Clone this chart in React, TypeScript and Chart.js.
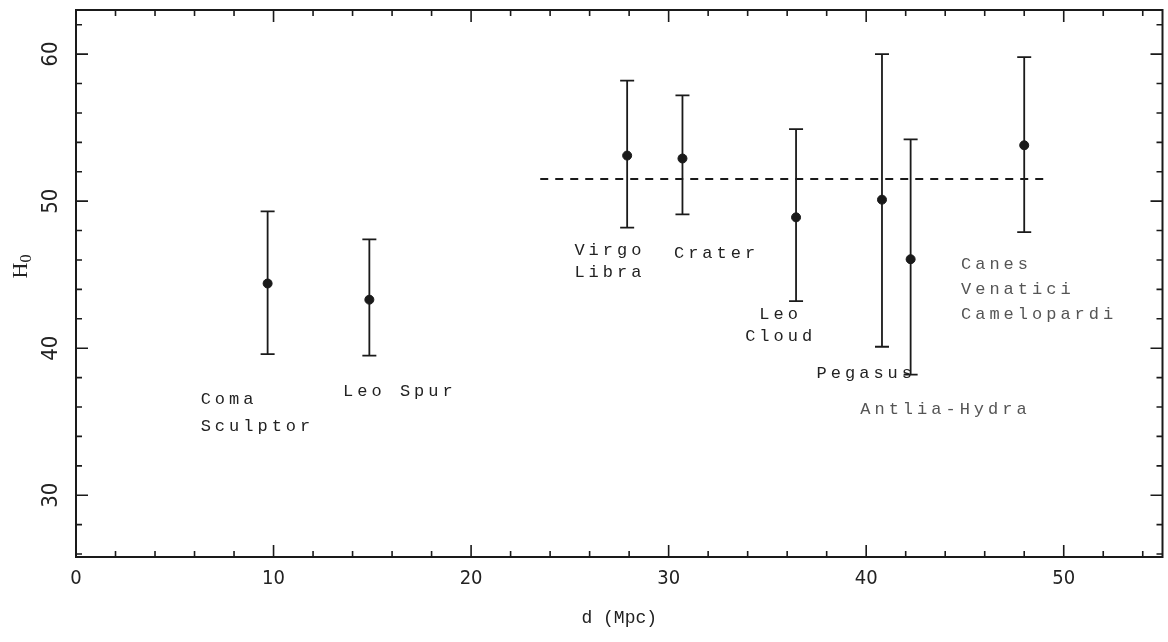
import React, { useEffect, useRef } from "react";
import { Chart, registerables } from "chart.js";
Chart.register(...registerables);

// ---- data ----
const distances = [9.7, 14.85, 27.9, 30.7, 36.45, 40.8, 42.25, 48.0];
const h0Values = [44.4, 43.3, 53.1, 52.9, 48.9, 50.1, 46.05, 53.8];
const h0Upper = [49.3, 47.4, 58.2, 57.2, 54.9, 60.0, 54.2, 59.8];
const h0Lower = [39.6, 39.5, 48.2, 49.1, 43.2, 40.1, 38.2, 47.9];
const meanLineX = [23.5, 49.0];
const meanLineY = [51.5, 51.5];
const xTickLabels = [0, 10, 20, 30, 40, 50];
const yTickLabels = [30, 40, 50, 60];
const xMinorTicks = [2, 4, 6, 8, 12, 14, 16, 18, 22, 24, 26, 28, 32, 34, 36, 38, 42, 44, 46, 48, 52, 54];
const yMinorTicks = [26, 28, 32, 34, 36, 38, 42, 44, 46, 48, 52, 54, 56, 58, 62];

// group annotations: text, anchor x, anchor y (data units), alignment
const annotationText = ["Coma", "Sculptor", "Leo Spur", "Virgo", "Libra", "Crater", "Leo", "Cloud", "Pegasus", "Antlia-Hydra", "Canes", "Venatici", "Camelopardi"];
const annotationX = [6.31, 6.31, 13.52, 25.23, 25.23, 30.27, 35.67, 35.67, 37.49, 39.7, 44.8, 44.8, 44.8];
const annotationY = [36.52, 34.67, 37.06, 46.62, 45.12, 46.41, 42.32, 40.82, 38.29, 35.83, 45.66, 43.96, 42.32];
const annotationAlign = ["left", "left", "left", "left", "left", "left", "center", "center", "left", "left", "left", "left", "left"];
const annotationFaint = [false, false, false, false, false, false, false, false, false, true, true, true, true];

const INK = "#1a1a1a";

const errorBarPlugin = {
  id: "errorBars",
  beforeDatasetsDraw(chart: any) {
    const ctx = chart.ctx;
    const xs = chart.scales.x;
    const ys = chart.scales.y;
    const meta = chart.getDatasetMeta(1);
    const data = chart.data.datasets[1].data as any[];
    ctx.save();
    ctx.strokeStyle = INK;
    ctx.lineWidth = 1.8;
    data.forEach((pt, i) => {
      if (!meta.data[i]) return;
      const px = xs.getPixelForValue(pt.x);
      const top = ys.getPixelForValue(pt.yMax);
      const bot = ys.getPixelForValue(pt.yMin);
      ctx.beginPath();
      ctx.moveTo(px, top);
      ctx.lineTo(px, bot);
      ctx.moveTo(px - 7, top);
      ctx.lineTo(px + 7, top);
      ctx.moveTo(px - 7, bot);
      ctx.lineTo(px + 7, bot);
      ctx.stroke();
    });
    ctx.restore();
  },
};

const framePlugin = {
  id: "frame",
  afterDraw(chart: any) {
    const ctx = chart.ctx;
    const a = chart.chartArea;
    const xs = chart.scales.x;
    const ys = chart.scales.y;
    ctx.save();
    ctx.strokeStyle = INK;
    ctx.lineWidth = 2;
    ctx.strokeRect(a.left, a.top, a.right - a.left, a.bottom - a.top);

    const major = 12;
    const minor = 6;
    ctx.lineWidth = 1.6;
    ctx.beginPath();
    const xTick = (v: number, len: number) => {
      const p = xs.getPixelForValue(v);
      ctx.moveTo(p, a.bottom);
      ctx.lineTo(p, a.bottom - len);
      ctx.moveTo(p, a.top);
      ctx.lineTo(p, a.top + len);
    };
    const yTick = (v: number, len: number) => {
      const p = ys.getPixelForValue(v);
      ctx.moveTo(a.left, p);
      ctx.lineTo(a.left + len, p);
      ctx.moveTo(a.right, p);
      ctx.lineTo(a.right - len, p);
    };
    xTickLabels.forEach((v) => xTick(v, major));
    xMinorTicks.forEach((v) => xTick(v, minor));
    yTickLabels.forEach((v) => yTick(v, major));
    yMinorTicks.forEach((v) => yTick(v, minor));
    ctx.stroke();

    // tick labels
    ctx.fillStyle = "#222";
    ctx.font = "20px 'Liberation Sans Narrow', 'DejaVu Sans Condensed', sans-serif";
    ctx.textAlign = "center";
    ctx.textBaseline = "top";
    xTickLabels.forEach((v) => {
      ctx.fillText(String(v), xs.getPixelForValue(v), a.bottom + 12);
    });
    ctx.font = "22px 'Liberation Sans Narrow', 'DejaVu Sans Condensed', sans-serif";
    yTickLabels.forEach((v) => {
      ctx.save();
      ctx.translate(51, ys.getPixelForValue(v));
      ctx.rotate(-Math.PI / 2);
      ctx.textBaseline = "middle";
      ctx.fillText(String(v), 0, 0);
      ctx.restore();
    });

    // axis titles
    ctx.font = "18px 'Liberation Mono', monospace";
    ctx.textBaseline = "top";
    ctx.fillText("d (Mpc)", (a.left + a.right) / 2, a.bottom + 52);

    ctx.save();
    ctx.translate(21, (a.top + a.bottom) / 2 - 14);
    ctx.rotate(-Math.PI / 2);
    ctx.textAlign = "left";
    ctx.textBaseline = "middle";
    ctx.font = "22px 'Liberation Serif', serif";
    ctx.fillText("H", -9, 0);
    const w = ctx.measureText("H").width;
    ctx.font = "16px 'Liberation Serif', serif";
    ctx.fillText("0", -9 + w, 6);
    ctx.restore();

    // group annotations
    ctx.font = "17px 'Liberation Mono', monospace";
    (ctx as any).letterSpacing = "4px";
    ctx.textBaseline = "middle";
    annotationText.forEach((t, i) => {
      ctx.fillStyle = annotationFaint[i] ? "#555" : "#222";
      ctx.textAlign = annotationAlign[i] as CanvasTextAlign;
      ctx.fillText(t, xs.getPixelForValue(annotationX[i]), ys.getPixelForValue(annotationY[i]));
    });
    ctx.restore();
  },
};

export default function App() {
  const ref = useRef<HTMLCanvasElement | null>(null);
  useEffect(() => {
    document.body.style.margin = "0";
    const canvas = ref.current;
    if (!canvas) return;
    const chart = new Chart(canvas, {
      type: "scatter",
      data: {
        datasets: [
          {
            type: "line",
            data: meanLineX.map((x, i) => ({ x, y: meanLineY[i] })),
            borderColor: INK,
            borderWidth: 2,
            borderDash: [8, 7],
            pointRadius: 0,
            fill: false,
          } as any,
          {
            type: "scatter",
            data: distances.map((x, i) => ({ x, y: h0Values[i], yMin: h0Lower[i], yMax: h0Upper[i] })),
            backgroundColor: INK,
            borderColor: INK,
            pointRadius: 4.5,
          } as any,
        ],
      },
      options: {
        animation: false,
        responsive: true,
        maintainAspectRatio: false,
        layout: { padding: { left: 76, top: 10, right: 3, bottom: 85 } },
        plugins: { legend: { display: false }, tooltip: { enabled: false } },
        scales: {
          x: { type: "linear", min: 0, max: 55, display: false },
          y: { type: "linear", min: 25.8, max: 63, display: false },
        },
      },
      plugins: [errorBarPlugin, framePlugin],
    });
    return () => chart.destroy();
  }, []);
  return (
    <div style={{ width: 1168, height: 642, position: "relative", background: "#fff" }}>
      <canvas ref={ref} />
    </div>
  );
}
